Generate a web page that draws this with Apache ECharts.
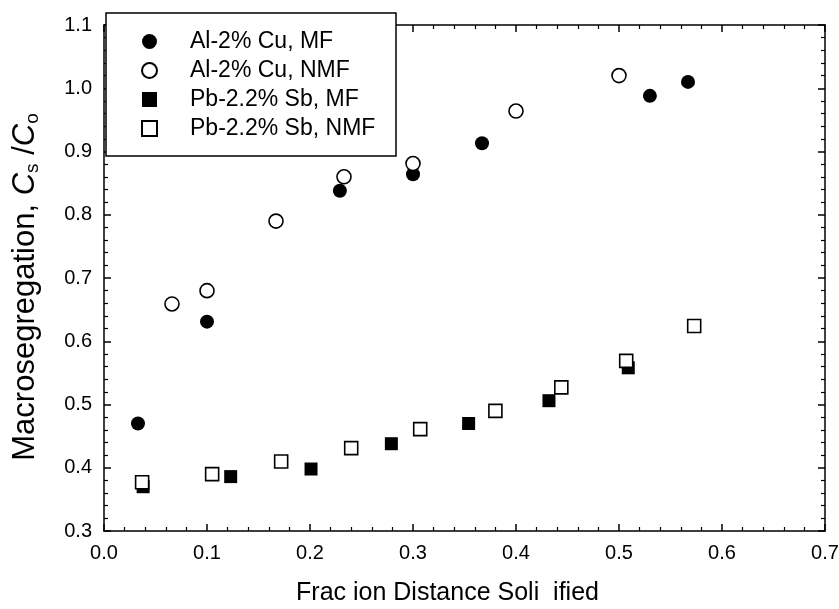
<!DOCTYPE html>
<html>
<head>
<meta charset="utf-8">
<script src="https://cdn.jsdelivr.net/npm/echarts@6/dist/echarts.min.js"></script>
<style>
  html, body { margin: 0; padding: 0; background: #fff; }
  #chart { width: 839px; height: 609px; }
</style>
</head>
<body>
<div id="chart"></div>
<script>
// values
const alMF = [[0.033, 0.470], [0.100, 0.631], [0.229, 0.838], [0.300, 0.864], [0.367, 0.913], [0.530, 0.988], [0.567, 1.010]];
const alNMF = [[0.066, 0.659], [0.100, 0.680], [0.167, 0.790], [0.233, 0.860], [0.300, 0.881], [0.400, 0.964], [0.500, 1.020]];
const pbMF = [[0.038, 0.370], [0.123, 0.386], [0.201, 0.398], [0.279, 0.438], [0.354, 0.470], [0.432, 0.506], [0.509, 0.558]];
const pbNMF = [[0.037, 0.377], [0.105, 0.390], [0.172, 0.410], [0.240, 0.431], [0.307, 0.461], [0.380, 0.490], [0.444, 0.527], [0.507, 0.569], [0.573, 0.624]];
const seriesNames = ['Al-2% Cu, MF', 'Al-2% Cu, NMF', 'Pb-2.2% Sb, MF', 'Pb-2.2% Sb, NMF'];
const xTitle = 'Frac ion Distance Soli  ified';

const font = 'Liberation Sans, Arial, sans-serif';
const black = '#000';

function axisBase(show) {
  return {
    axisLine: { show: true, onZero: false, lineStyle: { color: black, width: 1.5 } },
    axisTick: { show: true, inside: true, length: 7, lineStyle: { color: black, width: 1.5 } },
    minorTick: { show: true, splitNumber: 5, length: 4, lineStyle: { color: black, width: 1.2 } },
    splitLine: { show: false },
    axisLabel: { show: show, color: black, fontSize: 20, fontFamily: font, margin: 12, formatter: v => v.toFixed(1) }
  };
}

function scatter(name, data, symbol, filled) {
  return {
    name: name,
    type: 'scatter',
    data: data,
    symbol: symbol,
    symbolSize: symbol === 'circle' ? 14 : 13,
    itemStyle: filled
      ? { color: black, opacity: 1 }
      : { color: '#fff', borderColor: black, borderWidth: 1.6, opacity: 1 }
  };
}

const chart = echarts.init(document.getElementById('chart'));
chart.setOption({
  animation: false,
  backgroundColor: '#fff',
  grid: { left: 104, right: 14, top: 25, bottom: 78, containLabel: false, outerBoundsMode: 'none' },
  xAxis: [
    Object.assign(axisBase(true), {
      type: 'value', min: 0, max: 0.7, interval: 0.1,
      name: xTitle, nameLocation: 'middle', nameGap: 50,
      nameTextStyle: { color: black, fontSize: 25, fontFamily: font, padding: [0, 34, 0, 0] }
    }),
    Object.assign(axisBase(false), { type: 'value', position: 'top', min: 0, max: 0.7, interval: 0.1 })
  ],
  yAxis: [
    Object.assign(axisBase(true), {
      type: 'value', min: 0.3, max: 1.1, interval: 0.1,
      name: '{a|Macrosegregation, }{i|C}{s|s}{a| /}{i|C}{s|o}',
      nameLocation: 'middle', nameGap: 62,
      nameTextStyle: {
        color: black, fontSize: 30, fontFamily: font, padding: [0, 18, 0, 0],
        rich: {
          a: { fontSize: 31, fontFamily: font, color: black },
          i: { fontSize: 31, fontFamily: font, fontStyle: 'italic', color: black },
          s: { fontSize: 19, fontFamily: font, color: black, padding: [15, 0, 0, 0] }
        }
      }
    }),
    Object.assign(axisBase(false), { type: 'value', position: 'right', min: 0.3, max: 1.1, interval: 0.1 })
  ],
  graphic: [{
    type: 'rect', z: 100,
    shape: { x: 106, y: 13, width: 290, height: 143 },
    style: { fill: '#fff', stroke: black, lineWidth: 1.5 }
  }],
  legend: {
    z: 101,
    orient: 'vertical',
    left: 141, top: 30,
    padding: 0,
    itemWidth: 15, itemHeight: 15,
    itemGap: 6,
    textStyle: { color: black, fontSize: 23, fontFamily: font, lineHeight: 23, padding: [0, 0, 0, 28] },
    data: seriesNames
  },
  series: [
    scatter(seriesNames[0], alMF, 'circle', true),
    scatter(seriesNames[1], alNMF, 'circle', false),
    scatter(seriesNames[2], pbMF, 'rect', true),
    scatter(seriesNames[3], pbNMF, 'rect', false)
  ]
});
</script>
</body>
</html>
